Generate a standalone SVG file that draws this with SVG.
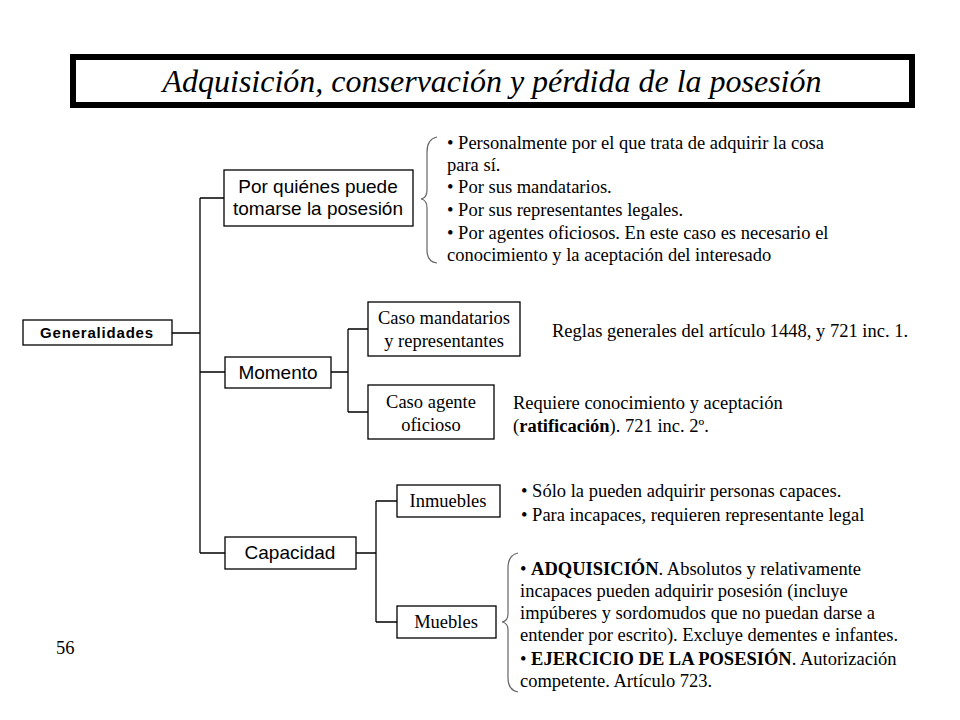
<svg xmlns="http://www.w3.org/2000/svg" width="960" height="720" viewBox="0 0 960 720">
<style>
.box{fill:#fff;stroke:#000;stroke-width:1.3}
.ar{font-family:"Liberation Sans",Arial,sans-serif;font-size:19px;fill:#000;text-anchor:middle}
.tm{font-family:"Liberation Serif","Times New Roman",serif;font-size:18.5px;fill:#000}
.tmc{font-family:"Liberation Serif","Times New Roman",serif;font-size:18.5px;fill:#000;text-anchor:middle}
.cn{fill:none;stroke:#000;stroke-width:1.3}
.br{fill:none;stroke:#666;stroke-width:1.2}
.b{font-weight:bold}
</style>
<rect width="960" height="720" fill="#fff"/>
<g id="title">
<rect x="73" y="57" width="839" height="48" fill="#fff" stroke="#000" stroke-width="6"/>
<text x="492" y="92" font-family="'Liberation Serif','Times New Roman',serif" font-style="italic" font-size="32" text-anchor="middle" textLength="659" lengthAdjust="spacingAndGlyphs">Adquisición, conservación y pérdida de la posesión</text>
</g>
<g id="connectors">
<path class="cn" d="M172,333H200M200,198V553M200,198H224M200,372H225M200,553H225"/>
<path class="cn" d="M331,372H348M348,329V412M348,329H368M348,412H368"/>
<path class="cn" d="M356,553H376M376,501V622M376,501H397M376,622H397"/>
</g>
<g id="generalidades">
<rect class="box" x="23" y="320" width="149" height="25"/>
<text x="97" y="338" font-family="'Liberation Sans',Arial,sans-serif" font-size="15" font-weight="bold" letter-spacing="0.8" text-anchor="middle">Generalidades</text>
</g>
<g id="porquienes">
<rect class="box" x="224" y="170" width="189" height="56"/>
<text class="ar" x="318" y="193">Por quiénes puede</text>
<text class="ar" x="318" y="215">tomarse la posesión</text>
</g>
<g id="momento">
<rect class="box" x="225" y="357" width="106" height="31"/>
<text class="ar" x="278" y="379">Momento</text>
</g>
<g id="capacidad">
<rect class="box" x="225" y="537" width="131" height="32"/>
<text class="ar" x="290" y="559">Capacidad</text>
</g>
<g id="mandatarios">
<rect class="box" x="368" y="302" width="152" height="54"/>
<text class="tmc" x="444" y="324">Caso mandatarios</text>
<text class="tmc" x="444" y="347">y representantes</text>
</g>
<g id="agente">
<rect class="box" x="368" y="385" width="126" height="54"/>
<text class="tmc" x="431" y="408">Caso agente</text>
<text class="tmc" x="431" y="431">oficioso</text>
</g>
<g id="inmuebles">
<rect class="box" x="397" y="485" width="103" height="32"/>
<text class="tmc" x="448" y="507">Inmuebles</text>
</g>
<g id="muebles">
<rect class="box" x="397" y="606" width="99" height="32"/>
<text class="tmc" x="446" y="628">Muebles</text>
</g>
<g id="list1">
<path class="br" d="M437,137Q427,139 427,152L427,190Q427,198 421,199Q427,200 427,208L427,250Q427,262 437,263"/>
<text class="tm" x="447" y="149">• Personalmente por el que trata de adquirir la cosa</text>
<text class="tm" x="447" y="171">para sí.</text>
<text class="tm" x="447" y="193">• Por sus mandatarios.</text>
<text class="tm" x="447" y="216">• Por sus representantes legales.</text>
<text class="tm" x="447" y="239">• Por agentes oficiosos. En este caso es necesario el</text>
<text class="tm" x="447" y="261">conocimiento y la aceptación del interesado</text>
</g>
<g id="reglas">
<text class="tm" x="552" y="337">Reglas generales del artículo 1448, y 721 inc. 1.</text>
</g>
<g id="requiere">
<text class="tm" x="513" y="409">Requiere conocimiento y aceptación</text>
<text class="tm" x="513" y="432">(<tspan class="b">ratificación</tspan>). 721 inc. 2º.</text>
</g>
<g id="list2">
<text class="tm" x="521" y="497">• Sólo la pueden adquirir personas capaces.</text>
<text class="tm" x="521" y="521">• Para incapaces, requieren representante legal</text>
</g>
<g id="list3">
<path class="br" d="M518,553Q508,555 508,568L508,614Q508,621 502,622Q508,623 508,630L508,678Q508,690 518,692"/>
<text class="tm" x="520" y="575">• <tspan class="b">ADQUISICIÓN</tspan>. Absolutos y relativamente</text>
<text class="tm" x="520" y="597">incapaces pueden adquirir posesión (incluye</text>
<text class="tm" x="520" y="619">impúberes y sordomudos que no puedan darse a</text>
<text class="tm" x="520" y="641">entender por escrito). Excluye dementes e infantes.</text>
<text class="tm" x="520" y="665">• <tspan class="b">EJERCICIO DE LA POSESIÓN</tspan>. Autorización</text>
<text class="tm" x="520" y="687">competente. Artículo 723.</text>
</g>
<text class="tm" x="56" y="654">56</text>
</svg>
